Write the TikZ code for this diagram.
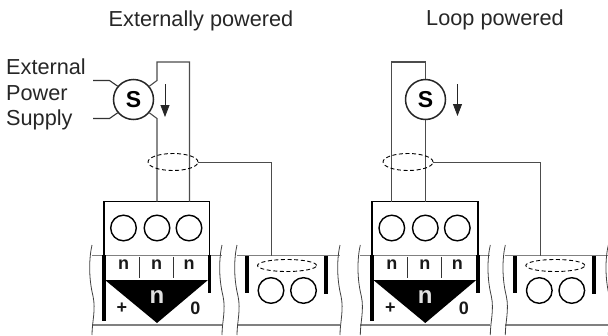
\documentclass[tikz,border=0pt]{standalone}
\usepackage{fontspec}
\setmainfont{Liberation Sans}
\usetikzlibrary{arrows.meta,shapes.geometric}
\definecolor{wiregray}{gray}{0.3}
\tikzset{
  x=1pt,y=-1pt,
  wire/.style={draw=wiregray,line width=1.1pt},
  railline/.style={draw=gray,line width=1.1pt},
  wavy/.style={draw=black!75,line width=.8pt},
  heavy/.style={draw=black,line width=3.8pt},
  boxline/.style={draw=black,line width=1.6pt},
  term/.style={circle,draw=black,line width=1.4pt,minimum size=25.6pt,inner sep=0pt},
  sensor/.style={circle,draw=black!85,line width=1.5pt,minimum size=40pt,inner sep=0pt,font=\fontsize{23}{23}\selectfont\bfseries},
  dashring/.style={ellipse,draw=black,line width=.9pt,dash pattern=on 4pt off 2.6pt,inner sep=0pt},
  small/.style={font=\fontsize{18}{18}\selectfont\bfseries,inner sep=0pt,text=black!90},
  label/.style={font=\fontsize{21.7}{21.7}\selectfont,inner sep=0pt,text=black!85,anchor=base},
  sidelabel/.style={label,anchor=base west},
  flow/.style={-{Triangle[width=9pt,length=12pt]},line width=.8pt,draw=black!85},
}
\newcommand{\wavyline}[1]{%
  \draw[wavy] (#1,245) .. controls (#1-3,258) and (#1-3.5,278) .. (#1+1,296) .. controls (#1+4,310) and (#1,322) .. (#1,335);
}
\newcommand{\unitgroup}[2]{% #1 = x offset, #2 = name prefix
  \begin{scope}[xshift=#1pt]
    \draw[railline] (92,255.5) -- (222,255.5);
    \draw[railline] (92,325) -- (222,325);
    \draw[railline] (237,255.5) -- (340,255.5);
    \draw[railline] (237,325) -- (340,325);
    \wavyline{92}\wavyline{222}\wavyline{237}\wavyline{340}
    \coordinate (#2tl) at (103.7,201.5);
    \coordinate (#2tr) at (209.5,201.5);
    \draw[boxline] (103.7,255) -- (#2tl) -- (#2tr) -- (209.5,255);
    \draw[heavy] (103.7,255) -- (103.7,321);
    \draw[heavy] (209.5,255) -- (209.5,293);
    \node[term] (#2a) at (123.5,228) {};
    \node[term] (#2b) at (157,228) {};
    \node[term] (#2c) at (189,228) {};
    \node[small] (#2na) at (123.5,265) {n};
    \node[small] (#2nb) at (156.5,265) {n};
    \node[small] (#2nc) at (189,265) {n};
    \draw[draw=black!80,line width=.9pt] (139,257) -- (139,278);
    \draw[draw=black!80,line width=.9pt] (173,257) -- (173,278);
    \fill[black] (105,280) -- (208,280) -- (157,323) -- cycle;
    \node[font=\fontsize{24}{24}\selectfont\bfseries,text=black!12,inner sep=0pt] (#2n) at (157,297) {n};
    \node[small] (#2p) at (122,308) {+};
    \node[small] (#2z) at (195.5,308) {0};
    \draw[heavy] (247,256) -- (247,293);
    \draw[heavy] (326,256) -- (326,294);
    \node[dashring,minimum width=59pt,minimum height=12pt] (#2sh) at (287,265.5) {};
    \node[term] (#2d) at (271,290.5) {};
    \node[term] (#2e) at (303.5,290.5) {};
  \end{scope}
}
\begin{document}
\begin{tikzpicture}
\useasboundingbox (0,0) rectangle (608,335);
\unitgroup{0}{L}
\unitgroup{268.3}{R}
\node[label] (t1) at (201,26) {Externally powered};
\node[label] (t2) at (495,25) {Loop powered};
\node[sidelabel] (e1) at (6,74) {External};
\node[sidelabel] (e2) at (6,100) {Power};
\node[sidelabel] (e3) at (6,125.5) {Supply};
\node[sensor] (S1) at (133.5,99.5) {S};
\coordinate (lt) at (157,62); \coordinate (rt) at (189.5,62);
\draw[wire] (S1.40) -- (157,80.5) -- (lt) -- (rt) -- (189.5,201.5);
\draw[wire] (S1.-40) -- (157,118.5) -- (157,201.5);
\draw[wire,draw=black!80] (93,80.5) -- (109.5,80.5) -- (S1.140);
\draw[wire,draw=black!80] (93,118.5) -- (109.5,118.5) -- (S1.-140);
\draw[flow] (165,84) -- (165,117);
\node[dashring,minimum width=50pt,minimum height=17pt] (r1) at (173,162) {};
\coordinate (c1) at (271.5,162);
\draw[wire,line width=.9pt] (r1.east) -- (c1) -- (271.5,255.5);
\node[sensor] (S2) at (425.5,99.5) {S};
\coordinate (lt2) at (391.7,62); \coordinate (rt2) at (425.5,62);
\draw[wire] (S2.north) -- (rt2) -- (lt2) -- (391.7,201.5);
\draw[wire] (S2.south) -- (425.5,201.5);
\draw[flow] (457.5,84) -- (457.5,116);
\node[dashring,minimum width=50pt,minimum height=17pt] (r2) at (408,162) {};
\coordinate (c2) at (540,162);
\draw[wire,line width=.9pt] (r2.east) -- (c2) -- (540,255.5);
\end{tikzpicture}
\end{document}
